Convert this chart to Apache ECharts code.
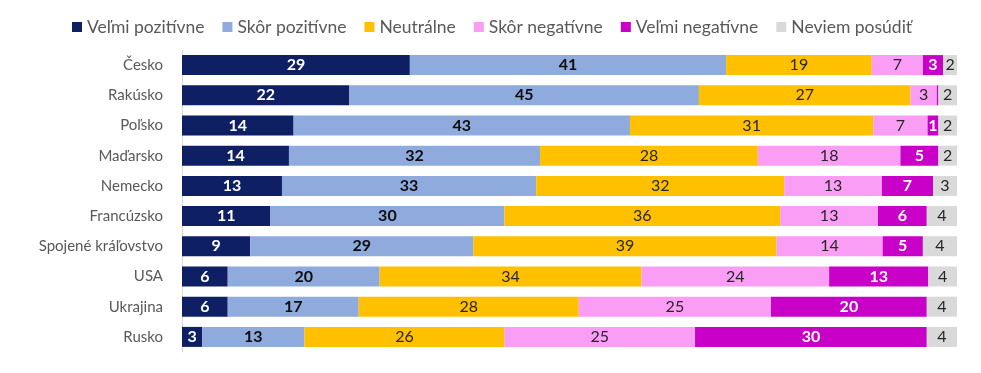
<!DOCTYPE html>
<html>
<head>
<meta charset="utf-8">
<script src="https://cdn.jsdelivr.net/npm/echarts@6/dist/echarts.min.js"></script>
<style>
html,body{margin:0;padding:0;background:#fff;}
#c{width:981px;height:373px;}
</style>
</head>
<body>
<div id="c"></div>
<script>
const categories = ["Česko","Rakúsko","Poľsko","Maďarsko","Nemecko","Francúzsko","Spojené kráľovstvo","USA","Ukrajina","Rusko"];
const seriesNames = ["Veľmi pozitívne","Skôr pozitívne","Neutrálne","Skôr negatívne","Veľmi negatívne","Neviem posúdiť"];
// shares in % (labels show them rounded)
const velmiPozitivne = [29.4,21.6,14.4,13.8,12.9,11.4,8.8,5.9,5.9,2.6];
const skorPozitivne  = [40.8,45.1,43.4,32.4,32.8,30.2,28.8,19.6,16.9,13.2];
const neutralne      = [18.8,27.3,31.4,28.1,32.0,35.6,39.1,33.8,28.4,25.8];
const skorNegativne  = [6.6,3.4,7.0,18.4,12.6,12.6,13.7,24.2,24.8,24.6];
const velmiNegativne = [2.6,0.2,1.4,4.9,6.6,6.3,5.2,12.8,20.1,29.9];
const neviemPosudit  = [1.8,2.4,2.4,2.4,3.1,3.9,4.4,3.7,3.9,3.9];

const allSeries = [velmiPozitivne,skorPozitivne,neutralne,skorNegativne,velmiNegativne,neviemPosudit];
const colors = ["#0e1f63","#8faadc","#ffc000","#fa9ef5","#c800c8","#d9d9d9"];
const labelColors = ["#ffffff","#0d0d0d","#262626","#262626","#ffffff","#262626"];
const labelWeights = ["bold","bold","normal","normal","bold","normal"];

const FONT = "Lato, 'Open Sans', sans-serif";

const series = allSeries.map((arr, k) => ({
  name: seriesNames[k],
  type: "bar",
  stack: "total",
  barWidth: 20,
  itemStyle: { color: colors[k] },
  data: arr,
  label: {
    show: true,
    position: "inside",
    fontFamily: FONT,
    fontSize: 16,
    fontWeight: labelWeights[k],
    color: labelColors[k],
    formatter: p => { const r = Math.round(p.value); return r >= 1 ? String(r) : ""; }
  },
  emphasis: { disabled: true }
}));

const chart = echarts.init(document.getElementById("c"));
chart.setOption({
  animation: false,
  textStyle: { fontFamily: FONT },
  legend: {
    top: 13,
    left: 67,
    itemWidth: 10,
    itemHeight: 10,
    itemGap: 18,
    icon: "rect",
    textStyle: { color: "#595959", fontSize: 17.5, fontFamily: FONT },
    data: seriesNames
  },
  grid: { left: 182, right: 24, top: 50, bottom: 21, containLabel: false },
  xAxis: {
    type: "value",
    min: 0,
    max: 100,
    show: false
  },
  yAxis: {
    type: "category",
    inverse: true,
    data: categories,
    axisLine: { show: true, lineStyle: { color: "#d9d9d9", width: 1 } },
    axisTick: { show: false },
    axisLabel: { color: "#595959", fontSize: 15, fontFamily: FONT, margin: 19 }
  },
  series: series
});
</script>
</body>
</html>
